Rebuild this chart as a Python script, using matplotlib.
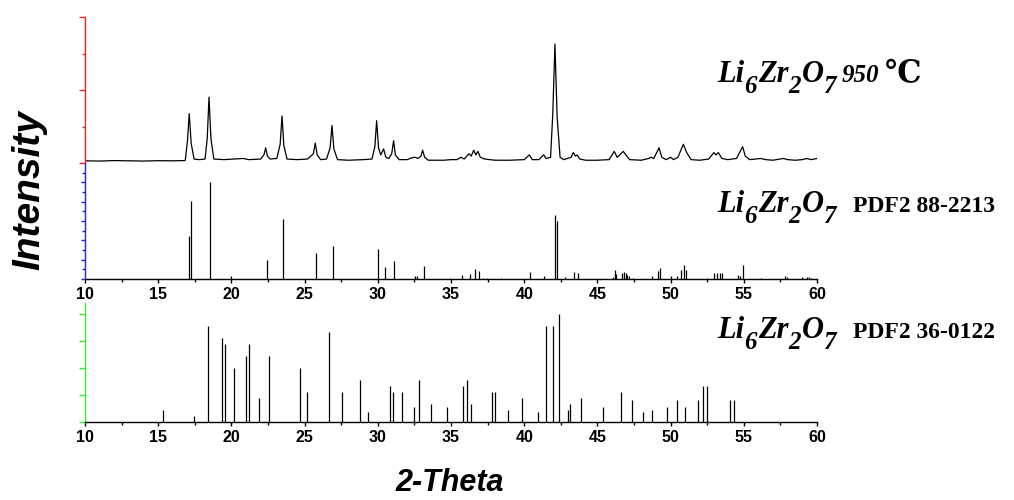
import matplotlib
matplotlib.use('Agg')
import matplotlib.pyplot as plt
import numpy as np

plt.rcParams['font.family'] = ['Liberation Sans', 'DejaVu Sans']

# measured pattern, Li6Zr2O7 950 C (2-theta, relative intensity)
theta_exp = [10.0, 11.0, 12.0, 13.0, 14.0, 15.0, 16.0, 16.8,
             16.85, 17.0, 17.12, 17.25, 17.45, 17.8, 18.2,
             18.35, 18.47, 18.6, 18.8, 19.5, 20.2, 20.8, 21.2, 22.0,
             22.22, 22.34, 22.46, 22.65, 23.1,
             23.33, 23.46, 23.58, 23.8, 24.5, 25.2,
             25.6, 25.73, 25.86, 26.1, 26.5,
             26.74, 26.87, 27.0, 27.25, 28.0, 29.0, 29.6,
             29.8, 29.92, 30.05, 30.2, 30.4, 30.55, 30.75,
             30.95, 31.08, 31.2, 31.45, 32.0, 32.3, 32.55, 32.75,
             32.95, 33.06, 33.2, 33.45, 34.0, 34.5, 35.0, 35.4,
             35.68, 35.9, 36.23, 36.38, 36.55, 36.7, 36.84, 37.0, 37.3,
             38.0, 39.0, 40.0, 40.35, 40.55, 41.0, 41.33, 41.5, 41.8,
             41.95, 42.1, 42.25, 42.45, 42.7,
             43.2, 43.35, 43.5, 43.62, 43.8, 44.2, 45.0, 45.8,
             46.15, 46.35, 46.77, 46.95, 47.2, 48.0, 48.5, 48.66, 48.85,
             49.21, 49.4, 49.7, 50.0, 50.2, 50.5,
             50.87, 51.1, 51.4, 52.0, 52.6,
             52.96, 53.1, 53.26, 53.5, 53.9, 54.5,
             54.92, 55.1, 55.4, 56.15, 56.5, 57.0, 57.7, 58.0, 58.5,
             59.0, 59.3, 59.6, 60.0]
int_exp = [1.0, 0.8, 1.2, 1.0, 0.8, 1.1, 1.0, 1.2,
           1.5, 18, 41, 16, 2.5, 2.0, 2.5,
           20, 55, 20, 2.5, 2.0, 2.5, 3.0, 2.0, 2.5,
           6, 12, 5, 2.5, 3.0,
           15, 39, 14, 2.5, 2.0, 2.5,
           7, 16, 6, 2.0, 2.5,
           12, 31, 11, 2.0, 1.5, 2.0, 2.5,
           13, 35, 12, 6, 11, 4, 3,
           7, 18, 6, 2.0, 2.0, 3.5, 4.0, 3.0,
           5, 10, 4, 1.5, 1.5, 1.5, 2.0, 2.0,
           4, 2.5, 7, 5, 10, 6, 9, 4, 2.5,
           1.5, 1.5, 2.0, 6, 2.0, 2.0, 6, 3, 4,
           40, 100, 38, 4, 2.0,
           4, 8, 5, 6, 2.5, 1.5, 1.5, 2.0,
           9, 4, 9, 6, 2.0, 1.5, 3, 4, 3,
           12, 4, 2.0, 4, 2.0, 4,
           15, 8, 2.0, 1.5, 2.5,
           8, 6, 8, 3, 2.0, 3,
           13, 5, 2.0, 3, 2.0, 1.5, 3, 2.0, 1.5,
           2.0, 3, 2.0, 3]

# reference card PDF2 88-2213
pdf88_pos = [17.12, 17.24, 18.56, 19.97, 22.43, 23.55, 25.80, 26.94, 29.99, 30.46,
             31.13, 32.51, 32.68, 33.13, 34.93, 35.73, 36.30, 36.61, 36.93, 37.20,
             37.43, 38.39, 40.40, 41.35, 42.12, 42.24, 42.76, 43.37, 43.67, 46.09,
             46.18, 46.29, 46.65, 46.83, 46.95, 47.04, 47.16, 47.41, 48.70, 49.14,
             49.28, 50.05, 50.46, 50.71, 50.89, 51.07, 52.49, 52.97, 53.19, 53.37,
             53.48, 54.58, 54.74, 54.96, 56.17, 57.79, 57.93, 58.95, 59.34, 59.47,
             59.60]
pdf88_int = [44, 81, 100, 3, 20, 62, 27, 34, 31, 12,
             19, 3, 3, 13, 1, 4, 5, 10, 8, 1.5,
             1, 1, 7, 3, 66, 60, 2, 7, 6, 2,
             9, 5, 6, 7, 6, 4, 3, 1, 3, 8,
             11, 3, 3.5, 9, 14, 9, 1, 6, 6, 6,
             6, 4, 3, 14, 1, 3, 2, 2, 2, 2,
             1.5]

# reference card PDF2 36-0122
pdf36_pos = [15.31, 17.47, 18.40, 19.36, 19.59, 20.20, 20.97, 21.18, 21.91, 22.57,
             24.66, 25.14, 26.67, 27.55, 28.81, 29.31, 30.81, 31.02, 31.68, 32.47,
             32.81, 33.61, 34.70, 35.80, 36.07, 36.37, 37.78, 38.03, 38.89, 39.87,
             40.92, 41.47, 41.97, 42.40, 42.97, 43.15, 43.88, 45.41, 46.59, 47.39,
             48.14, 48.75, 49.73, 50.46, 50.96, 51.87, 52.24, 52.49, 54.04, 54.33]
pdf36_int = [11, 6, 89, 78, 72, 50, 61, 72, 22, 61,
             50, 28, 83, 28, 39, 9, 33, 28, 28, 14,
             39, 17, 14, 33, 39, 17, 28, 28, 11, 22,
             9, 89, 89, 100, 11, 17, 22, 14, 28, 20,
             9, 11, 14, 20, 14, 20, 33, 33, 20, 20]

xticks = [10, 15, 20, 25, 30, 35, 40, 45, 50, 55, 60]

W, H = 1014, 500
fig = plt.figure(figsize=(W / 100, H / 100), dpi=100)


def px_axes(top, bottom):
    return fig.add_axes([85 / W, 1 - bottom / H, 732 / W, (bottom - top) / H])


ax1 = px_axes(17, 163)
ax2 = px_axes(163, 279)
ax3 = px_axes(303, 422)

for ax in (ax1, ax2, ax3):
    ax.set_xlim(10, 60)
    ax.spines['top'].set_visible(False)
    ax.spines['right'].set_visible(False)
    ax.spines['left'].set_linewidth(1.0)
    ax.spines['bottom'].set_linewidth(1.0)
    ax.tick_params(axis='y', which='both', direction='out', labelleft=False)

# top: measured pattern
ax1.plot(theta_exp, int_exp, color='black', lw=0.9)
ax1.set_ylim(-0.85, 122.9)
ax1.spines['bottom'].set_visible(False)
ax1.spines['left'].set_color('#ff2020')
ax1.tick_params(axis='x', which='both', bottom=False, labelbottom=False)
yt = np.linspace(-0.85, 122.9, 5)
ax1.set_yticks(yt[::2])
ax1.set_yticks(yt[1::2], minor=True)
ax1.tick_params(axis='y', which='major', length=4, width=1, color='#ff2020')
ax1.tick_params(axis='y', which='minor', length=2.5, width=1, color='#ff2020')

# middle: PDF2 88-2213
ax2.vlines(pdf88_pos, 0, pdf88_int, color='black', lw=0.9)
ax2.set_ylim(0, 120)
ax2.spines['left'].set_color('#2020ff')
ax2.set_yticks(np.arange(0, 101, 20))
ax2.set_yticks(np.arange(10, 120, 10), minor=True)
ax2.tick_params(axis='y', which='major', length=3, width=1, color='#2020ff')
ax2.tick_params(axis='y', which='minor', length=2, width=1, color='#2020ff')

# bottom: PDF2 36-0122
ax3.vlines(pdf36_pos, 0, pdf36_int, color='black', lw=0.9)
ax3.set_ylim(0, 110.2)
ax3.spines['left'].set_color('#33f033')
ax3.set_yticks([0, 25, 50, 75, 100])
ax3.tick_params(axis='y', which='major', length=4, width=1, color='#33f033')

for ax in (ax2, ax3):
    ax.set_xticks(xticks)
    ax.set_xticks(np.arange(12.5, 60, 5), minor=True)
    ax.tick_params(axis='x', which='major', length=3, width=1, pad=3)
    ax.tick_params(axis='x', which='minor', length=2, width=1)
    for lab in ax.get_xticklabels():
        lab.set_fontweight('bold')
        lab.set_fontsize(11.5)

fig.text(29 / W, 1 - 190 / H, 'Intensity', rotation=90, ha='center', va='center',
         fontsize=28, fontweight='bold', fontstyle='italic')
fig.text(450 / W, 1 - 483 / H, '2-Theta', ha='center', va='center',
         fontsize=22, fontweight='bold', fontstyle='italic')

# phase labels on the right, built piece by piece (large, lowered subscripts)
serif = ['Liberation Serif', 'DejaVu Serif', 'Noto Sans CJK SC']
formula = [('Li', 0), ('6', 1), ('Zr', 0), ('2', 1), ('O', 0), ('7', 1)]
labels = [(82, '950', '\u2103'), (212, 'PDF2 88-2213', None),
          (338, 'PDF2 36-0122', None)]

fig.canvas.draw()
for ypx, suffix, unit in labels:
    x = 717
    for part, sub in formula:
        t = fig.text(x / W, 1 - (ypx + 11 * sub) / H, part, va='baseline', ha='left',
                     fontsize=18 if sub else 22, fontweight='bold', fontstyle='italic',
                     family=serif)
        fig.canvas.draw()
        x = t.get_window_extent().x1 + 0.5
    if unit is None:
        t = fig.text((x + 16) / W, 1 - ypx / H, suffix, va='baseline', ha='left',
                     fontsize=17, fontweight='bold', family=serif)
    else:
        t = fig.text((x + 4) / W, 1 - ypx / H, suffix, va='baseline', ha='left',
                     fontsize=18, fontweight='bold', fontstyle='italic', family=serif)
        fig.canvas.draw()
        x = t.get_window_extent().x1
        fig.text((x + 6) / W, 1 - ypx / H, unit, va='baseline', ha='left',
                 fontsize=22, fontweight='bold', family=serif)

fig.savefig('out.png', dpi=100)
